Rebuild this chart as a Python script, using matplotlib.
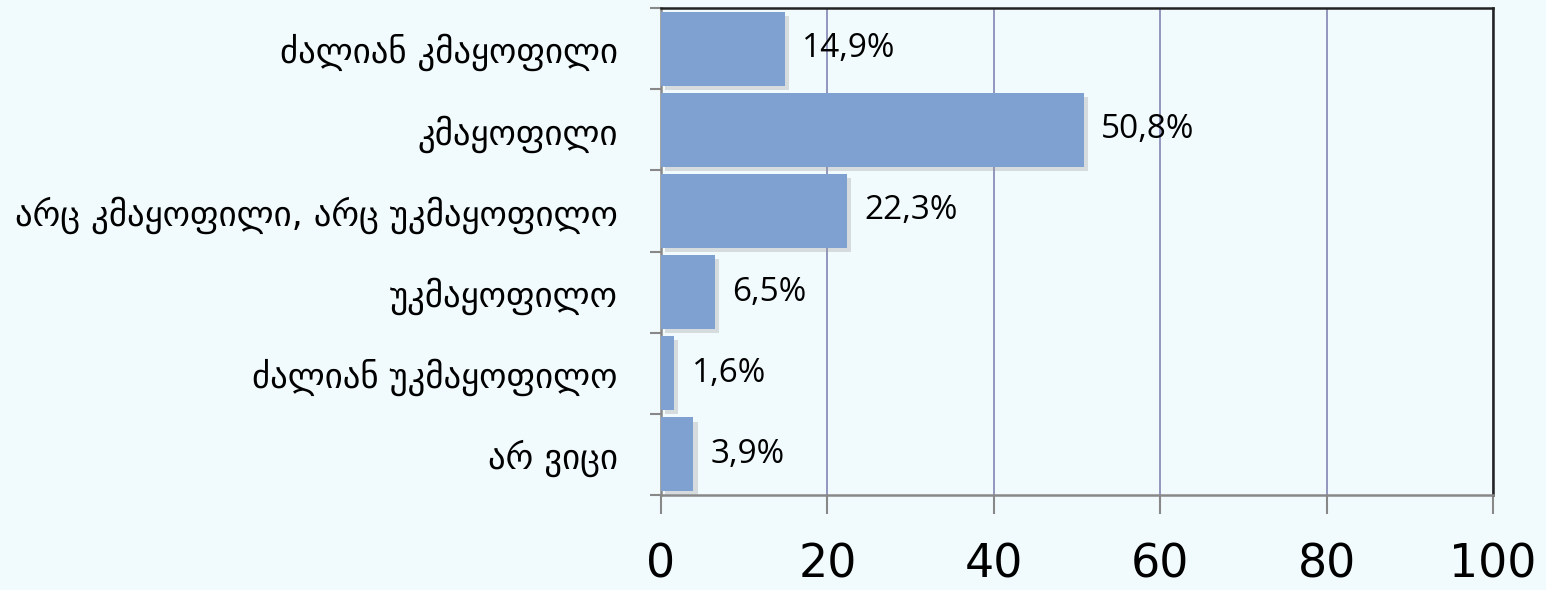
import matplotlib
matplotlib.use("Agg")
import matplotlib.pyplot as plt
import matplotlib.patheffects as pe
import numpy as np

categories = ["ძალიან კმაყოფილი", "კმაყოფილი", "არც კმაყოფილი, არც უკმაყოფილო",
              "უკმაყოფილო", "ძალიან უკმაყოფილო", "არ ვიცი"]
values = [14.9, 50.8, 22.3, 6.5, 1.6, 3.9]
value_labels = ["14,9%", "50,8%", "22,3%", "6,5%", "1,6%", "3,9%"]
xticks = [0, 20, 40, 60, 80, 100]

plt.rcParams['font.family'] = ['DejaVu Sans']
num_font = ['Open Sans', 'DejaVu Sans']
bg = "#F1FAFD"
fig = plt.figure(figsize=(15.46, 5.90), dpi=100, facecolor=bg)
ax = fig.add_axes([661/1546, 1-495/590, (1493-661)/1546, (495-8)/590])
ax.set_facecolor(bg)

n = len(categories)
y = np.arange(n)
bars = ax.barh(y, values, height=0.91, color="#7EA1D1", zorder=3,
               path_effects=[pe.SimplePatchShadow(offset=(3, -3), shadow_rgbFace="#999999", alpha=0.3), pe.Normal()])
for yi, v, lab in zip(y, values, value_labels):
    ax.text(v + 2.1, yi, lab, va="center", ha="left", fontsize=24, color="black",
            zorder=4, family=num_font)

ax.set_xlim(0, 100)
ax.set_ylim(n - 0.5, -0.5)
ax.set_xticks(xticks)
ax.set_xticklabels([str(t) for t in xticks], fontsize=33)
ax.set_yticks(y)
ax.set_yticklabels(categories, fontsize=25)
ax.set_yticks(np.arange(n + 1) - 0.5, minor=True)
ax.tick_params(axis="y", which="major", length=0, pad=31)
ax.tick_params(axis="y", which="minor", length=8, width=1.5, color="#888888")
ax.tick_params(axis="x", length=14, width=1.5, color="#888888", pad=20)
ax.xaxis.grid(True, color="#8A8DB8", linewidth=1.3, zorder=0)
ax.set_axisbelow(True)
for s in ["left", "bottom"]:
    ax.spines[s].set_color("#888888")
    ax.spines[s].set_linewidth(1.8)
for s in ["top", "right"]:
    ax.spines[s].set_color("#222222")
    ax.spines[s].set_linewidth(1.8)

fig.savefig("out.png", dpi=100, facecolor=bg)
